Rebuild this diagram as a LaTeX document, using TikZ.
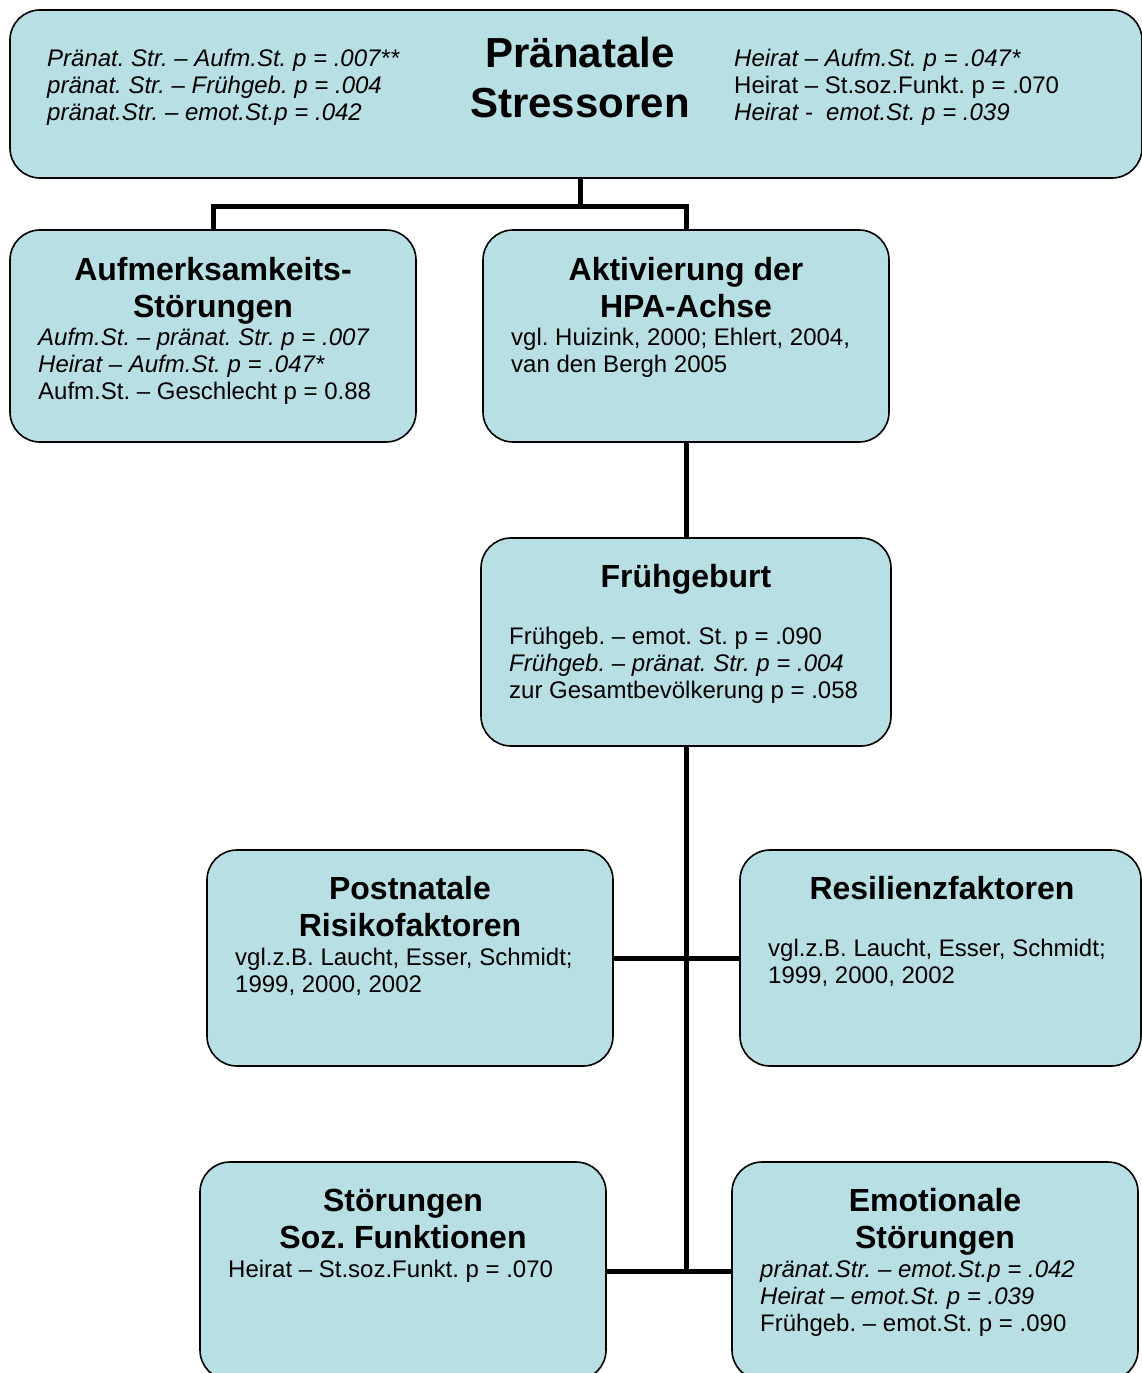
\documentclass[tikz,border=0pt]{standalone}
\usepackage{fontspec}
\setmainfont{Liberation Sans}
\frenchspacing
\definecolor{boxfill}{RGB}{184,223,227}
\tikzset{
  box/.style={draw=black, line width=1.6pt, fill=boxfill, rounded corners=30pt, inner sep=0pt, outer sep=0pt},
  conn/.style={line width=5pt},
  body/.style={inner sep=0pt, anchor=north west, align=left, font=\fontsize{24}{27}\selectfont\frenchspacing},
  ttl/.style={inner sep=0pt, anchor=north, align=center, font=\fontsize{32}{37}\selectfont\bfseries\frenchspacing},
  bigttl/.style={inner sep=0pt, anchor=north, align=center, font=\fontsize{42}{50}\selectfont\bfseries},
}
\begin{document}
\begin{tikzpicture}[x=1pt,y=-1pt]
\useasboundingbox (0,0) rectangle (1141,1373);
% boxes
\node[box, minimum width=1132pt, minimum height=168pt] (top) at (576,94) {};
\node[box, minimum width=406pt, minimum height=212pt] (aufm) at (213,336) {};
\node[box, minimum width=406pt, minimum height=212pt] (akt) at (686,336) {};
\node[box, minimum width=410pt, minimum height=208pt] (frueh) at (686,642) {};
\node[box, minimum width=406pt, minimum height=216pt] (post) at (410,958) {};
\node[box, minimum width=401pt, minimum height=216pt] (resil) at (940.5,958) {};
\node[box, minimum width=406pt, minimum height=218pt] (soz) at (403,1271) {};
\node[box, minimum width=406pt, minimum height=218pt] (emot) at (935,1271) {};
% connectors
\coordinate (j1) at (580,206);
\draw[conn] (j1 |- top.south) -- (j1);
\draw[conn] (aufm.north) |- (akt.north |- j1) -- (akt.north);
\draw[conn] (akt.south) -- (frueh.north);
\draw[conn] (frueh.south) -- (frueh.south |- emot.west);
\draw[conn] (post.east) -- (resil.west);
\draw[conn] (soz.east) -- (emot.west);
% texts: top box
\node[body] (topL) at (47,47.1) {\strut\textit{Pränat. Str. – Aufm.St. p = .007**}\\\textit{pränat. Str. – Frühgeb. p = .004}\\\textit{pränat.Str. – emot.St.p = .042}};
\node[bigttl] (topT) at (580,32) {\strut Pränatale\\Stressoren};
\node[body] (topR) at (734,47.1) {\strut\textit{Heirat – Aufm.St. p = .047*}\\Heirat – St.soz.Funkt. p = .070\\\textit{Heirat -\ \ emot.St. p = .039}};
% Aufmerksamkeit
\node[ttl] (aufmT) at (213,254.1) {\strut Aufmerksamkeits-\\Störungen};
\node[body] (aufmB) at (38,326.1) {\strut\textit{Aufm.St. – pränat. Str. p = .007}\\\textit{Heirat – Aufm.St. p = .047*}\\Aufm.St. – Geschlecht p = 0.88};
% Aktivierung
\node[ttl] (aktT) at (686,254.1) {\strut Aktivierung der\\HPA-Achse};
\node[body] (aktB) at (511,326.1) {\strut vgl. Huizink, 2000; Ehlert, 2004,\\van den Bergh 2005};
% Frühgeburt
\node[ttl] (fruehT) at (686,561.1) {\strut Frühgeburt};
\node[body] (fruehB) at (509,625.1) {\strut Frühgeb. – emot. St. p = .090\\\textit{Frühgeb. – pränat. Str. p = .004}\\zur Gesamtbevölkerung p = .058};
% Postnatale
\node[ttl] (postT) at (410,873.1) {\strut Postnatale\\Risikofaktoren};
\node[body] (postB) at (235,946.6) {\strut vgl.z.B. Laucht, Esser, Schmidt;\\1999, 2000, 2002};
% Resilienz
\node[ttl] (resilT) at (942,873.1) {\strut Resilienzfaktoren};
\node[body] (resilB) at (768,937.6) {\strut vgl.z.B. Laucht, Esser, Schmidt;\\1999, 2000, 2002};
% Störungen soz
\node[ttl] (sozT) at (403,1185.6) {\strut Störungen\\Soz. Funktionen};
\node[body] (sozB) at (228,1258.6) {\strut Heirat – St.soz.Funkt. p = .070};
% Emotionale
\node[ttl] (emotT) at (935,1185.6) {\strut Emotionale\\Störungen};
\node[body] (emotB) at (760,1258.6) {\strut\textit{pränat.Str. – emot.St.p = .042}\\\textit{Heirat – emot.St. p = .039}\\Frühgeb. – emot.St. p = .090};
\end{tikzpicture}
\end{document}
